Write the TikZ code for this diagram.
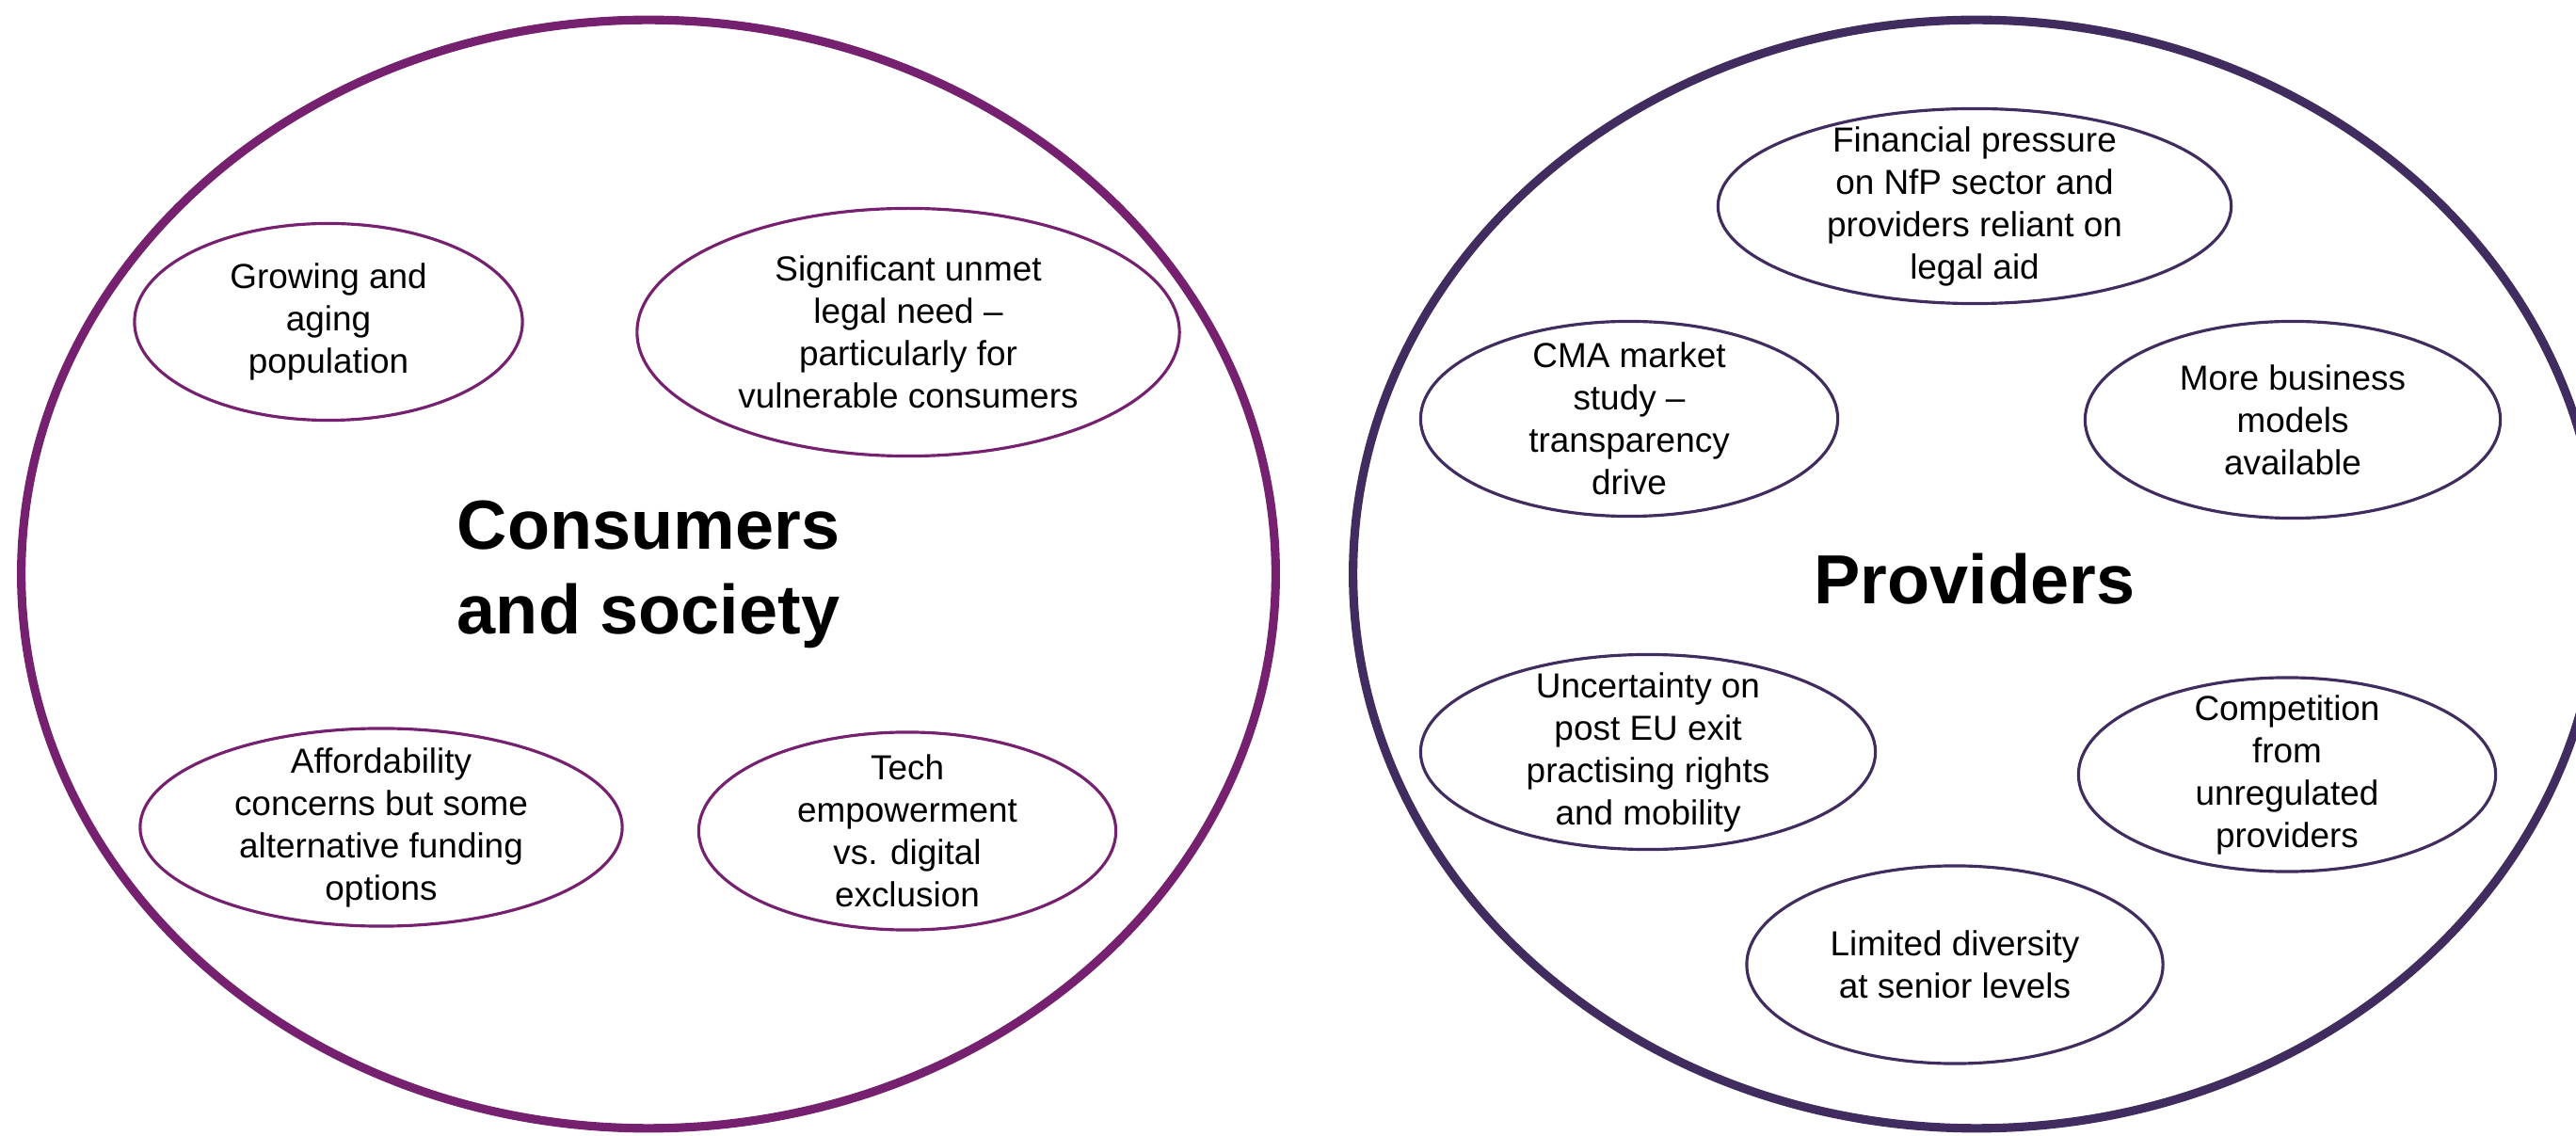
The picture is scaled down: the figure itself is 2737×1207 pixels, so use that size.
\documentclass[tikz,border=0pt]{standalone}
\usepackage{fontspec}
\setmainfont{Liberation Sans}
\usetikzlibrary{shapes.geometric}
\definecolor{plum}{RGB}{118,33,111}
\definecolor{grape}{RGB}{64,44,94}
\tikzstyle{ring}=[ellipse,draw,line width=2.6pt,inner sep=0pt]
\tikzstyle{bubble}=[ellipse,draw,line width=0.9pt,inner sep=0pt]
\tikzstyle{blurb}=[align=center,inner sep=0pt,font=\fontsize{10.5}{12.8}\selectfont]
\tikzstyle{heading}=[align=center,inner sep=0pt,font=\fontsize{21}{25.6}\selectfont\bfseries]
\def\idea#1#2#3#4#5{
  \node[bubble,minimum width=#3cm,minimum height=#4cm] (#1) at (#2) {};
  \node[blurb] (#1-txt) at (#1) {#5};
}

\begin{document}
\begin{tikzpicture}[x=0.01cm,y=-0.01cm]
  \useasboundingbox (0,0) rectangle (2737,1207);

  % CONSUMERS
  \node[ring,draw=plum,minimum width=13.32cm,minimum height=11.77cm] (cons) at (689,610) {};
  \node[heading] (cons-title) at (cons) {Consumers\\and society};
  \begin{scope}[bubble/.append style={draw=plum}]
    \idea{grow}{349,342}{4.12}{2.09}{Growing and\\aging\\population}
    \idea{need}{965,353}{5.76}{2.63}{Significant unmet\\legal need --\\particularly for\\vulnerable consumers}
    \idea{cost}{405,879}{5.12}{2.10}{Affordability\\concerns but some\\alternative funding\\options}
    \idea{tech}{964,883}{4.43}{2.10}{Tech\\empowerment\\vs. digital\\exclusion}
  \end{scope}

  % PROVIDERS
  \node[ring,draw=grape,minimum width=13.24cm,minimum height=11.77cm] (prov) at (2100,610) {};
  \node[heading] (prov-title) at (2098,615) {Providers};
  \begin{scope}[bubble/.append style={draw=grape}]
    \idea{fund}{2098,219}{5.45}{2.07}{Financial pressure\\on NfP sector and\\providers reliant on\\legal aid}
    \idea{cma}{1731,445}{4.43}{2.07}{CMA market\\study --\\transparency\\drive}
    \idea{model}{2436,446}{4.41}{2.09}{More business\\models\\available}
    \idea{exit}{1751,799}{4.83}{2.07}{Uncertainty on\\post EU exit\\practising rights\\and mobility}
    \idea{rival}{2430,823}{4.43}{2.06}{Competition\\from\\unregulated\\providers}
    \idea{div}{2077,1025}{4.42}{2.10}{Limited diversity\\at senior levels}
  \end{scope}
\end{tikzpicture}
\end{document}
